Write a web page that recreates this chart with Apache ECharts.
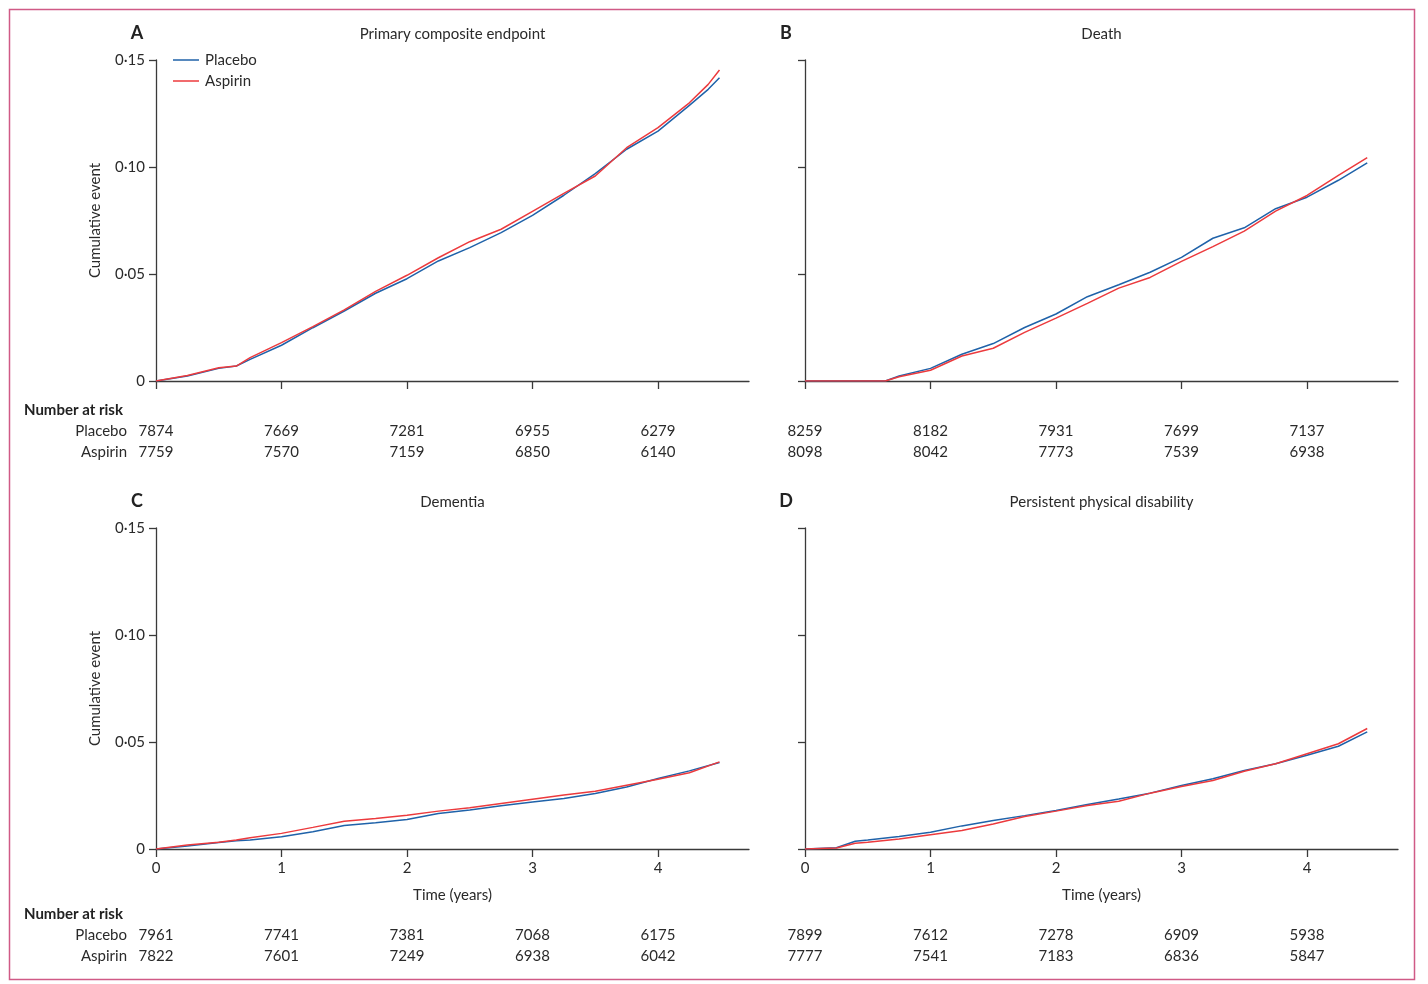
<!DOCTYPE html>
<html>
<head>
<meta charset="utf-8">
<script src="https://cdn.jsdelivr.net/npm/echarts@6/dist/echarts.min.js"></script>
<style>
html,body{margin:0;padding:0;background:#fff;}
#main{width:1428px;height:984px;}
</style>
</head>
<body>
<div id="main"></div>
<script>
// ---- data ----
const panelLetters = ['A', 'B', 'C', 'D'];
const panelTitles = ['Primary composite endpoint', 'Death', 'Dementia', 'Persistent physical disability'];
const seriesNames = ['Placebo', 'Aspirin'];
const xTicks = [0, 1, 2, 3, 4];
const yTicks = [0, 0.05, 0.10, 0.15];

const tA = [0, 0.25, 0.5, 0.64, 0.75, 1, 1.25, 1.5, 1.75, 2, 2.25, 2.5, 2.75, 3, 3.25, 3.5, 3.75, 4, 4.25, 4.4, 4.49];
const placeboA = [0, 0.0023, 0.0059, 0.007, 0.0101, 0.0167, 0.0249, 0.0327, 0.041, 0.0478, 0.0561, 0.0623, 0.0693, 0.0774, 0.0868, 0.0969, 0.1083, 0.1168, 0.1288, 0.1363, 0.1417];
const aspirinA = [0, 0.0026, 0.0062, 0.007, 0.0109, 0.0179, 0.0254, 0.0332, 0.0419, 0.0494, 0.0576, 0.0651, 0.0709, 0.0793, 0.0877, 0.0958, 0.109, 0.1184, 0.130, 0.1386, 0.1453];

const tB = [0, 0.64, 0.75, 1, 1.25, 1.5, 1.75, 2, 2.25, 2.5, 2.75, 3, 3.25, 3.5, 3.75, 4, 4.25, 4.48];
const placeboB = [0, 0, 0.0023, 0.0059, 0.0125, 0.0175, 0.025, 0.0313, 0.0394, 0.045, 0.0508, 0.0578, 0.0667, 0.0716, 0.0805, 0.0859, 0.0938, 0.1019];
const aspirinB = [0, 0, 0.002, 0.005, 0.0117, 0.0153, 0.0227, 0.0294, 0.0363, 0.0434, 0.0484, 0.0559, 0.0628, 0.07, 0.0794, 0.0867, 0.0961, 0.1044];

const tC = [0, 0.25, 0.5, 0.64, 0.75, 1, 1.25, 1.5, 1.75, 2, 2.25, 2.5, 2.75, 3, 3.25, 3.5, 3.75, 4, 4.25, 4.49];
const placeboC = [0, 0.0014, 0.003, 0.0039, 0.0042, 0.0057, 0.0081, 0.011, 0.0123, 0.0138, 0.0166, 0.0182, 0.0202, 0.022, 0.0236, 0.0259, 0.029, 0.0329, 0.0365, 0.0404];
const aspirinC = [0, 0.0019, 0.0031, 0.0042, 0.0053, 0.0073, 0.0101, 0.013, 0.0143, 0.0158, 0.0177, 0.0193, 0.0213, 0.0233, 0.0252, 0.027, 0.0298, 0.0326, 0.0356, 0.0407];

const tD = [0, 0.25, 0.4, 0.5, 0.75, 1, 1.25, 1.5, 1.75, 2, 2.25, 2.5, 2.75, 3, 3.25, 3.5, 3.75, 4, 4.25, 4.48];
const placeboD = [0, 0.0006, 0.0036, 0.0042, 0.0058, 0.0078, 0.0108, 0.0133, 0.0156, 0.018, 0.0208, 0.0234, 0.0261, 0.0297, 0.0328, 0.0367, 0.0398, 0.0438, 0.048, 0.0547];
const aspirinD = [0, 0.0005, 0.0027, 0.0031, 0.0047, 0.0067, 0.0086, 0.0117, 0.0152, 0.0177, 0.0203, 0.0223, 0.0261, 0.0292, 0.032, 0.0363, 0.0398, 0.0445, 0.0492, 0.0563];

const riskTimes = [0, 1, 2, 3, 4];
const riskPlaceboA = [7874, 7669, 7281, 6955, 6279];
const riskAspirinA = [7759, 7570, 7159, 6850, 6140];
const riskPlaceboB = [8259, 8182, 7931, 7699, 7137];
const riskAspirinB = [8098, 8042, 7773, 7539, 6938];
const riskPlaceboC = [7961, 7741, 7381, 7068, 6175];
const riskAspirinC = [7822, 7601, 7249, 6938, 6042];
const riskPlaceboD = [7899, 7612, 7278, 6909, 5938];
const riskAspirinD = [7777, 7541, 7183, 6836, 5847];

// ---- assembly ----
const FONT = 'Lato, "Open Sans", sans-serif';
const TXT = '#2a2a2a';
const AX = '#3a3a3a';
const BLUE = '#1f62a9';
const RED = '#ec3a3d';

const times = [tA, tB, tC, tD];
const placebo = [placeboA, placeboB, placeboC, placeboD];
const aspirin = [aspirinA, aspirinB, aspirinC, aspirinD];
const riskP = [riskPlaceboA, riskPlaceboB, riskPlaceboC, riskPlaceboD];
const riskA = [riskAspirinA, riskAspirinB, riskAspirinC, riskAspirinD];

const gridPos = [
  {left: 156, top: 60}, {left: 805, top: 60},
  {left: 156, top: 528}, {left: 805, top: 528}
];
const GW = 593, GH = 321;

const pair = (t, v) => t.map((x, i) => [x, v[i]]);

const grids = gridPos.map(g => ({left: g.left, top: g.top, width: GW, height: GH, containLabel: false}));
const xAxes = gridPos.map((g, i) => ({
  type: 'value', gridIndex: i, min: 0, max: GW / 125.5,
  axisLine: {show: true, onZero: false, lineStyle: {color: AX, width: 1.3}},
  axisTick: {show: true, length: 8, customValues: xTicks, lineStyle: {color: AX, width: 1.3}},
  axisLabel: {show: i >= 2, customValues: xTicks, margin: 12, fontSize: 15, color: TXT, fontFamily: FONT},
  splitLine: {show: false},
  name: i >= 2 ? 'Time (years)' : '',
  nameLocation: 'middle', nameGap: 39,
  nameTextStyle: {fontSize: 15, color: TXT, fontFamily: FONT}
}));
const yAxes = gridPos.map((g, i) => ({
  type: 'value', gridIndex: i, min: 0, max: 0.15, interval: 0.05,
  axisLine: {show: true, onZero: false, lineStyle: {color: AX, width: 1.3}},
  axisTick: {show: true, length: 7, lineStyle: {color: AX, width: 1.3}},
  axisLabel: {
    show: i % 2 === 0, margin: 11, fontSize: 15, color: TXT, fontFamily: FONT,
    formatter: v => v === 0 ? '0' : v.toFixed(2).replace('.', '\u00B7')
  },
  splitLine: {show: false},
  name: i % 2 === 0 ? 'Cumulative event' : '',
  nameLocation: 'middle', nameGap: 53, nameRotate: 90,
  nameTextStyle: {fontSize: 15, color: TXT, fontFamily: FONT}
}));
const series = [];
for (let i = 0; i < 4; i++) {
  series.push({name: seriesNames[0], type: 'line', xAxisIndex: i, yAxisIndex: i, symbol: 'none',
    data: pair(times[i], placebo[i]), lineStyle: {color: BLUE, width: 1.5}, itemStyle: {color: BLUE}, animation: false});
  series.push({name: seriesNames[1], type: 'line', xAxisIndex: i, yAxisIndex: i, symbol: 'none',
    data: pair(times[i], aspirin[i]), lineStyle: {color: RED, width: 1.5}, itemStyle: {color: RED}, animation: false});
}

const chart = echarts.init(document.getElementById('main'));
chart.setOption({
  animation: false,
  backgroundColor: '#fff',
  grid: grids, xAxis: xAxes, yAxis: yAxes, series: series,
  legend: {
    data: seriesNames.map(n => ({name: n, icon: 'rect'})),
    orient: 'vertical', left: 173, top: 51, padding: 0,
    itemWidth: 26, itemHeight: 1.5, itemGap: 3,
    textStyle: {fontSize: 15, lineHeight: 18, color: TXT, fontFamily: FONT, padding: [0, 0, 0, 1]},
    selectedMode: false
  }
});

// graphic overlays: frame, titles, number at risk
const g = [];
g.push({type: 'rect', shape: {x: 9.5, y: 9.5, width: 1405, height: 970},
  style: {fill: 'none', stroke: '#d05a86', lineWidth: 1.5}, silent: true});
const titleY = [33, 33, 501, 501];
for (let i = 0; i < 4; i++) {
  const gp = gridPos[i];
  g.push({type: 'text', x: gp.left - 19, y: titleY[i], style: {text: panelLetters[i], font: 'bold 18px ' + FONT, fill: '#222', textAlign: 'center', textVerticalAlign: 'middle'}});
  g.push({type: 'text', x: gp.left + GW / 2, y: titleY[i] + 1, style: {text: panelTitles[i], font: '15px ' + FONT, fill: TXT, textAlign: 'center', textVerticalAlign: 'middle'}});
}
const riskRows = [[410, 431, 452], [914, 935, 956]];
for (let r = 0; r < 2; r++) {
  const [hy, py, ay] = riskRows[r];
  g.push({type: 'text', x: 24, y: hy, style: {text: 'Number at risk', font: 'bold 15px ' + FONT, fill: '#222', textAlign: 'left', textVerticalAlign: 'middle'}});
  g.push({type: 'text', x: 127, y: py, style: {text: seriesNames[0], font: '15px ' + FONT, fill: TXT, textAlign: 'right', textVerticalAlign: 'middle'}});
  g.push({type: 'text', x: 127, y: ay, style: {text: seriesNames[1], font: '15px ' + FONT, fill: TXT, textAlign: 'right', textVerticalAlign: 'middle'}});
  for (let c = 0; c < 2; c++) {
    const k = r * 2 + c;
    riskTimes.forEach((t, j) => {
      const px = chart.convertToPixel({xAxisIndex: k}, t);
      g.push({type: 'text', x: px, y: py, style: {text: String(riskP[k][j]), font: '15px ' + FONT, fill: TXT, textAlign: 'center', textVerticalAlign: 'middle'}});
      g.push({type: 'text', x: px, y: ay, style: {text: String(riskA[k][j]), font: '15px ' + FONT, fill: TXT, textAlign: 'center', textVerticalAlign: 'middle'}});
    });
  }
}
chart.setOption({graphic: {elements: g}});
</script>
</body>
</html>
